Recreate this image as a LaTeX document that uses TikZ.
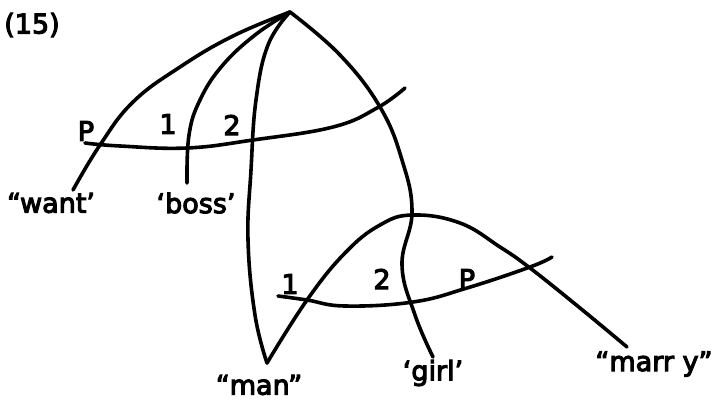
\documentclass[tikz,border=0pt]{standalone}
\usepackage{fontspec}
\setmainfont{DejaVu Sans}
\newfontfamily\handfont[FakeBold=4]{DejaVu Sans}
\begin{document}
\begin{tikzpicture}[x=1pt,y=-1pt,
  stroke/.style={line width=3.6pt,line cap=round,line join=round},
  lbl/.style={inner sep=0pt,font=\fontsize{27}{29}\handfont},
  wrd/.style={inner sep=0pt,font=\fontsize{27}{29}\handfont}]
\useasboundingbox (0,0) rectangle (717,401);
% end points
\coordinate (apex) at (290,12);
\coordinate (want) at (73,190);
\coordinate (boss) at (187,183);
\coordinate (man) at (267,363);
\coordinate (girl) at (433,357);
\coordinate (marry) at (627,347);
\coordinate (h1a) at (85,143);
\coordinate (h1b) at (405,88);
\coordinate (h2a) at (278,296);
\coordinate (h2b) at (552,257);
% branches
\draw[stroke] plot[smooth,tension=0.7] coordinates {(apex) (233,36) (180,67) (133,102) (100,145) (want)};
\draw[stroke] plot[smooth,tension=0.7] coordinates {(apex) (255,35) (222,66) (200,100) (189,135) (boss)};
\draw[stroke] plot[smooth,tension=0.7] coordinates {(apex) (268,45) (256,100) (251,170) (248,240) (255,315) (man)};
\draw[stroke] plot[smooth,tension=0.7] coordinates {(apex) (340,55) (380,107) (402,160) (412,212) (402,265) (415,315) (girl)};
\draw[stroke] plot[smooth,tension=0.7] coordinates {(man) (307,300) (345,253) (380,225) (413,215) (460,223) (500,247) (530,268) (580,308) (marry)};
% cross lines
\draw[stroke] plot[smooth,tension=0.7] coordinates {(h1a) (120,146) (187,148) (253,140) (333,127) (377,108) (h1b)};
\draw[stroke] plot[smooth,tension=0.7] coordinates {(h2a) (307,300) (345,306) (413,302) (467,288) (530,267) (h2b)};
% labels
\node[lbl] (num) at (32,25) {(15)};
\node[lbl] (p1) at (86,131) {P};
\node[lbl] (one1) at (168,124) {1};
\node[lbl] (two1) at (232,125) {2};
\node[lbl] (one2) at (290,284) {1};
\node[lbl] (two2) at (382,279) {2};
\node[lbl] (p2) at (467,279) {P};
\node[wrd] (twant) at (51,203) {“want’};
\node[wrd] (tboss) at (196,203) {‘boss’};
\node[wrd] (tman) at (259,385) {“man”};
\node[wrd] (tgirl) at (433,373) {‘girl’};
\node[wrd] (tmarry) at (654,364) {“marr y”};
\end{tikzpicture}
\end{document}
